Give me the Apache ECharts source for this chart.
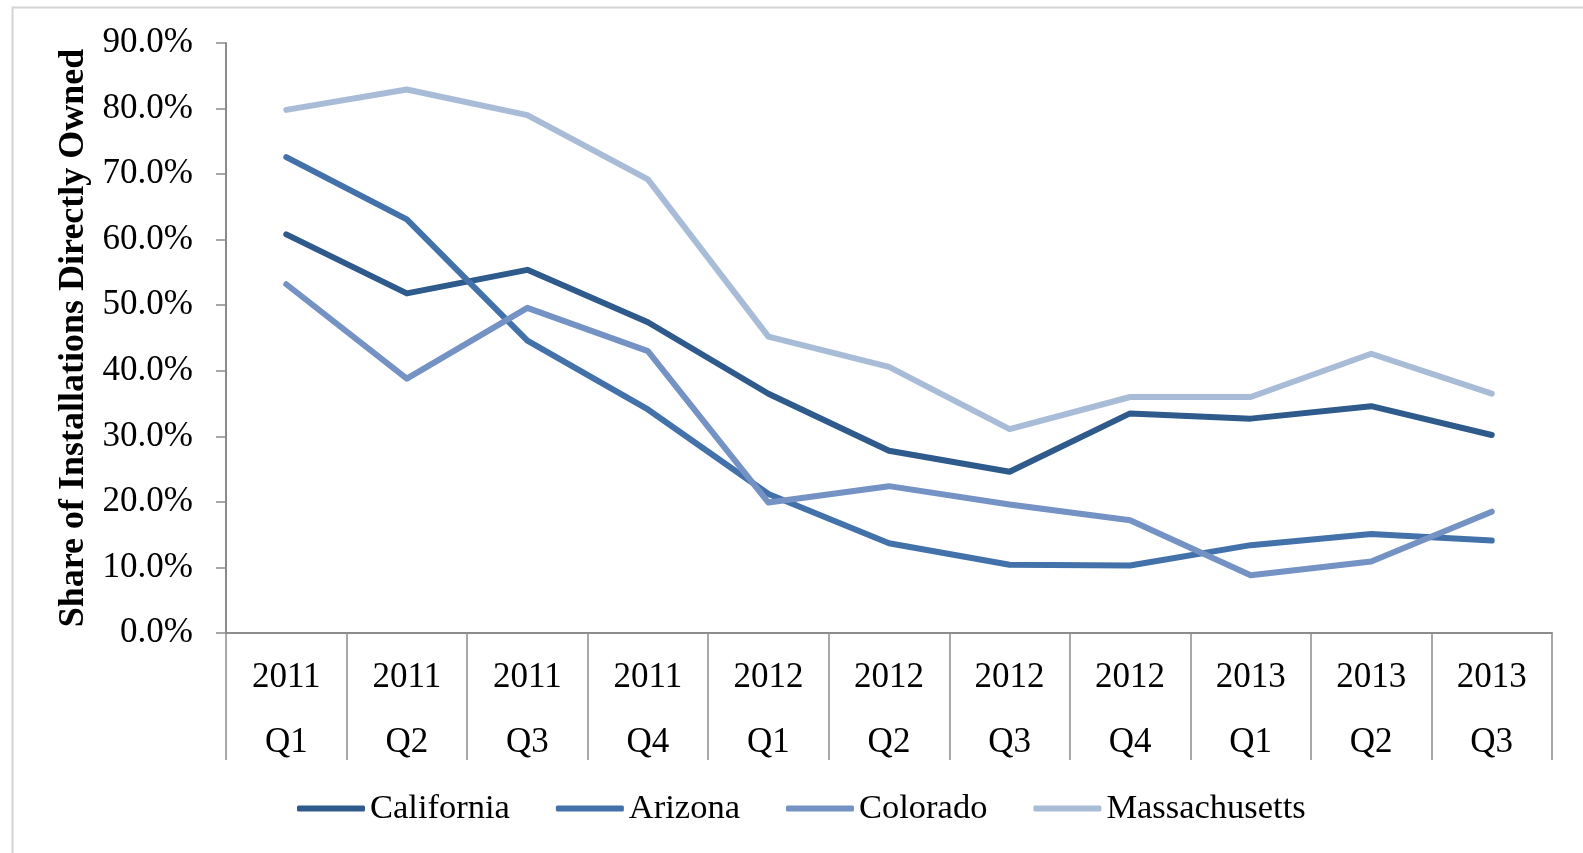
<!DOCTYPE html>
<html>
<head>
<meta charset="utf-8">
<title>Share of Installations Directly Owned</title>
<script src="https://cdn.jsdelivr.net/npm/echarts@6/dist/echarts.min.js"></script>
<style>
  html, body { margin: 0; padding: 0; background: #fff; }
  #chart { width: 1583px; height: 853px; }
</style>
</head>
<body>
<div id="chart"></div>
<script>
// 数据
const quarters = ['2011\nQ1', '2011\nQ2', '2011\nQ3', '2011\nQ4', '2012\nQ1', '2012\nQ2',
                  '2012\nQ3', '2012\nQ4', '2013\nQ1', '2013\nQ2', '2013\nQ3'];
const california    = [60.8, 51.8, 55.4, 47.4, 36.5, 27.8, 24.6, 33.5, 32.7, 34.6, 30.2];
const arizona       = [72.6, 63.1, 44.6, 34.1, 21.2, 13.7, 10.4, 10.3, 13.4, 15.1, 14.1];
const colorado      = [53.2, 38.8, 49.6, 43.0, 19.9, 22.4, 19.6, 17.2, 8.8, 10.9, 18.5];
const massachusetts = [79.8, 82.9, 79.0, 69.2, 45.2, 40.6, 31.1, 36.0, 36.0, 42.6, 36.5];
const yTicks = { min: 0, max: 90, step: 10 };

const seriesDefs = [
  { name: 'California', data: california, color: '#2E5A8C' },
  { name: 'Arizona', data: arizona, color: '#4371AA' },
  { name: 'Colorado', data: colorado, color: '#7492C4' },
  { name: 'Massachusetts', data: massachusetts, color: '#A9BCD7' }
];

const font = 'Liberation Serif, Times New Roman, serif';
const axisGray = '#8C8C8C';

// 初始化图表
const myChart = echarts.init(document.getElementById('chart'));

const option = {
  backgroundColor: '#fff',
  animation: false,
  textStyle: { fontFamily: font, color: '#000' },
  graphic: [{
    type: 'rect',
    left: 10, top: 5,
    shape: { width: 1600, height: 900 },
    style: { fill: 'none', stroke: '#D4D4D4', lineWidth: 2 },
    silent: true
  }],
  grid: { left: 226, right: 31, top: 43, bottom: 220, outerBoundsMode: 'none' },
  legend: {
    left: 292, top: 786,
    icon: 'roundRect',
    itemWidth: 68, itemHeight: 6,
    itemGap: 46,
    textStyle: { fontFamily: font, fontSize: 34.5, color: '#000' },
    data: seriesDefs.map(s => s.name)
  },
  xAxis: {
    type: 'category',
    data: quarters,
    boundaryGap: true,
    axisLine: { lineStyle: { color: axisGray, width: 2 } },
    axisTick: { show: true, interval: 0, length: 127, lineStyle: { color: axisGray, width: 1.5 } },
    axisLabel: { interval: 0, margin: 12, fontFamily: font, fontSize: 35, lineHeight: 65, color: '#000' }
  },
  yAxis: {
    type: 'value',
    min: yTicks.min, max: yTicks.max, interval: yTicks.step,
    name: 'Share of Installations Directly Owned',
    nameLocation: 'middle',
    nameGap: 128,
    nameTextStyle: { fontFamily: font, fontSize: 36, fontWeight: 'bold', color: '#000' },
    axisLine: { show: true, lineStyle: { color: axisGray, width: 2 } },
    axisTick: { show: true, length: 10, lineStyle: { color: axisGray, width: 1.5 } },
    splitLine: { show: false },
    axisLabel: {
      margin: 33, fontFamily: font, fontSize: 35, color: '#000',
      formatter: v => v.toFixed(1) + '%'
    }
  },
  series: seriesDefs.map(s => ({
    name: s.name,
    type: 'line',
    data: s.data,
    symbol: 'none',
    color: s.color,
    lineStyle: { width: 6, color: s.color, cap: 'round', join: 'round' },
    itemStyle: { color: s.color }
  }))
};

myChart.setOption(option);
window.addEventListener('resize', () => myChart?.resize());
</script>
</body>
</html>
